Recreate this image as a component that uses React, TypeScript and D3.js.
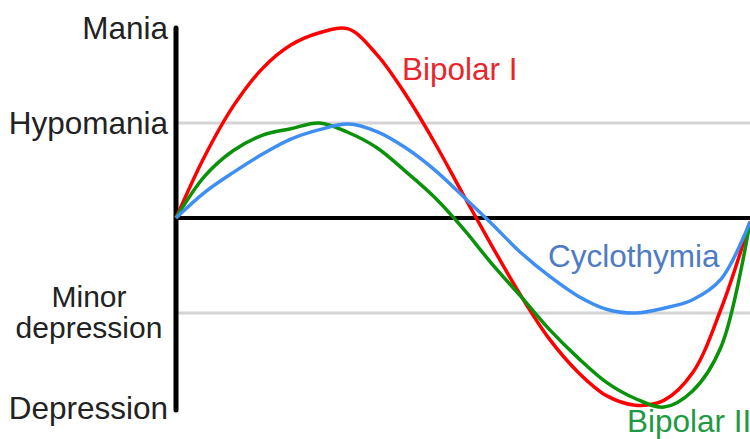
import { useEffect, useRef } from 'react';
import * as d3 from 'd3';

// mood levels on the y axis
const levelNames = ['Depression', 'Minor depression', 'Hypomania', 'Mania'];
const levelValues = [-2, -1, 1, 2];
const gridLevels = [1, -1];

// time steps (x) and mood (y)
const timeSteps = [0, 5, 10, 15, 20, 25, 30, 35, 40, 45, 50, 55, 60, 65, 70, 75, 80, 85, 90, 95, 100];
const bipolarI = [0, 0.65, 1.18, 1.57, 1.82, 1.95, 1.99, 1.72, 1.3, 0.8, 0.25, -0.29, -0.81, -1.27, -1.62, -1.87, -1.97, -1.92, -1.63, -0.95, -0.04];
const bipolarII = [0, 0.44, 0.71, 0.87, 0.94, 1.0, 0.9, 0.74, 0.49, 0.22, -0.11, -0.48, -0.82, -1.17, -1.47, -1.73, -1.9, -1.99, -1.82, -1.35, -0.04];
const cyclothymia = [0, 0.27, 0.48, 0.67, 0.83, 0.93, 0.99, 0.91, 0.74, 0.51, 0.23, -0.06, -0.36, -0.61, -0.82, -0.96, -1.0, -0.95, -0.86, -0.64, -0.04];

const seriesNames = ['Bipolar I', 'Bipolar II', 'Cyclothymia'];
const seriesData = [bipolarI, bipolarII, cyclothymia];
const seriesColors = ['#ff0000', '#0a930a', '#3f8ff2'];
const labelColors = ['#e8262c', '#1f9a44', '#4f7bc3'];

export default function App() {
  const svgRef = useRef<SVGSVGElement>(null);

  useEffect(() => {
    if (!svgRef.current) return;
    const svg = d3.select(svgRef.current);
    svg.selectAll('*').remove();

    const x = d3.scaleLinear().domain([0, 100]).range([176, 750]);
    const y = d3.scaleLinear().domain([-2, 2]).range([408, 28]);
    const font = "'Liberation Sans', Arial, sans-serif";
    const fontSize = 31.5;

    // grid lines
    svg.selectAll('line.grid')
      .data(gridLevels)
      .join('line')
      .attr('class', 'grid')
      .attr('x1', x(0))
      .attr('x2', x(100))
      .attr('y1', d => y(d))
      .attr('y2', d => y(d))
      .attr('stroke', '#d4d4d4')
      .attr('stroke-width', 3);

    // zero line
    svg.append('line')
      .attr('x1', x(0))
      .attr('x2', x(100))
      .attr('y1', y(0))
      .attr('y2', y(0))
      .attr('stroke', '#000')
      .attr('stroke-width', 4);

    // y axis
    svg.append('line')
      .attr('x1', x(0))
      .attr('x2', x(0))
      .attr('y1', y(2))
      .attr('y2', y(-2) + 2)
      .attr('stroke', '#000')
      .attr('stroke-width', 5)
      .attr('stroke-linecap', 'round');

    // level labels
    levelNames.forEach((name, i) => {
      const v = levelValues[i];
      if (name === 'Minor depression') {
        svg.append('text')
          .attr('x', 89)
          .attr('y', y(v) - 6)
          .attr('text-anchor', 'middle')
          .attr('font-family', font)
          .attr('font-size', 30)
          .attr('fill', '#222')
          .text('Minor');
        svg.append('text')
          .attr('x', 89)
          .attr('y', y(v) + 25)
          .attr('text-anchor', 'middle')
          .attr('font-family', font)
          .attr('font-size', 30)
          .attr('fill', '#222')
          .text('depression');
      } else {
        svg.append('text')
          .attr('x', 168)
          .attr('y', y(v) + 11)
          .attr('text-anchor', 'end')
          .attr('font-family', font)
          .attr('font-size', fontSize)
          .attr('fill', '#222')
          .text(name);
      }
    });

    const line = d3.line<number>()
      .x((_, i) => x(timeSteps[i]))
      .y(d => y(d))
      .curve(d3.curveCatmullRom.alpha(0.5));

    seriesData.forEach((data, i) => {
      svg.append('path')
        .datum(data)
        .attr('d', line)
        .attr('fill', 'none')
        .attr('stroke', seriesColors[i])
        .attr('stroke-width', 3.5);
    });

    // series labels
    const labelPos: [number, number][] = [[402, 80], [627, 432], [548, 267]];
    seriesNames.forEach((name, i) => {
      svg.append('text')
        .attr('x', labelPos[i][0])
        .attr('y', labelPos[i][1])
        .attr('font-family', font)
        .attr('font-size', fontSize)
        .attr('fill', labelColors[i])
        .text(name);
    });
  }, []);

  return (
    <svg
      ref={svgRef}
      width={750}
      height={439}
      style={{ position: 'absolute', left: 0, top: 0, background: '#fff' }}
    />
  );
}
